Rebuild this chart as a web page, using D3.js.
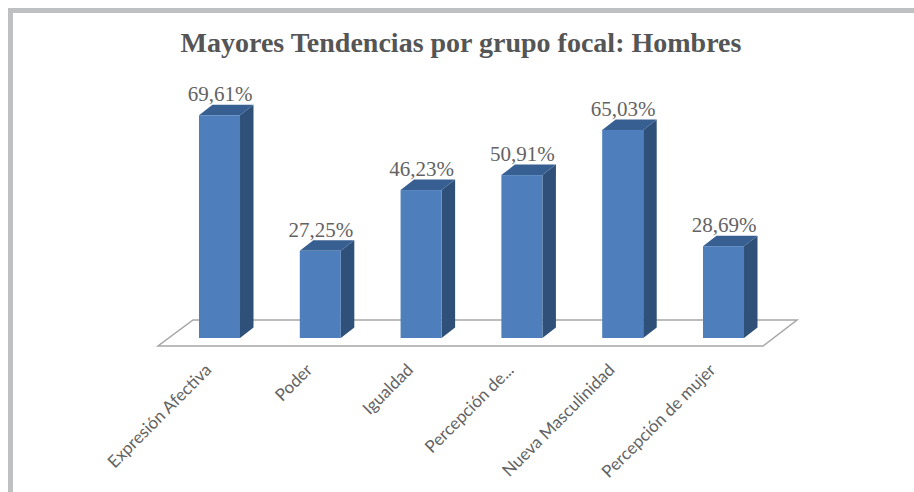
<!DOCTYPE html>
<html>
<head>
<meta charset="utf-8">
<script src="https://cdn.jsdelivr.net/npm/d3@7"></script>
<style>html,body{margin:0;padding:0;background:#fff}svg{display:block}</style>
</head>
<body>
<svg id="chart" width="914" height="492"></svg>
<script>
const titleText = "Mayores Tendencias por grupo focal: Hombres";
const categories = ["Expresión Afectiva","Poder","Igualdad","Percepción de...","Nueva Masculinidad","Percepción de mujer"];
const values = [69.61,27.25,46.23,50.91,65.03,28.69];

const svg = d3.select("#chart");
const x = d3.scaleBand().domain(categories).range([169.1,773.9]).paddingInner(0.593).paddingOuter(0.2965);
const y = d3.scaleLinear().domain([0,80]).range([338,82]);
const dx = 13.5, dy = 10.5;
const fmt = v => d3.format(".2f")(v).replace(".",",") + "%";

// frame
svg.append("rect").attr("x",8).attr("y",8).attr("width",906).attr("height",5).attr("fill","#bfc0c1");
svg.append("rect").attr("x",8).attr("y",8).attr("width",5).attr("height",484).attr("fill","#bfc0c1");

// title
svg.append("text").attr("x",461).attr("y",52).attr("text-anchor","middle")
  .attr("font-family","'Liberation Serif'").attr("font-weight","bold").attr("font-size",28)
  .attr("fill","#555555").text(titleText);

// floor
const floor = d3.line();
svg.append("path").attr("d",floor([[158,346],[763,346],[797,320],[193,320]])+"Z")
  .attr("fill","#fff").attr("stroke","#a6a6a6").attr("stroke-width",1.5);

// bars
const g = svg.selectAll("g.bar").data(categories.map((c,i)=>({c,v:values[i]}))).join("g").attr("class","bar");
g.append("path").attr("fill","#2f5078").attr("d",d=>{
  const r=x(d.c)+x.bandwidth(), t=y(d.v), b=y(0);
  return floor([[r,t],[r+dx,t-dy],[r+dx,b-dy],[r,b]])+"Z";
});
g.append("path").attr("fill","#385f91").attr("d",d=>{
  const l=x(d.c), r=l+x.bandwidth(), t=y(d.v);
  return floor([[l,t],[l+dx,t-dy],[r+dx,t-dy],[r,t]])+"Z";
});
g.append("rect").attr("x",d=>x(d.c)).attr("y",d=>y(d.v)).attr("width",x.bandwidth())
  .attr("height",d=>y(0)-y(d.v)).attr("fill","#4e7fbc");
g.append("text").attr("x",d=>x(d.c)+x.bandwidth()/2+0.5).attr("y",d=>y(d.v)-14)
  .attr("text-anchor","middle").attr("font-family","'Liberation Serif'").attr("font-size",21)
  .attr("fill","#636363").text(d=>fmt(d.v));

// category labels
svg.selectAll("text.cat").data(categories).join("text").attr("class","cat")
  .attr("transform",d=>`translate(${x(d)+x.bandwidth()/2-10},${368}) rotate(-45)`)
  .attr("text-anchor","end").attr("dominant-baseline","middle")
  .attr("font-family","Lato").attr("font-size",17).attr("fill","#636363").text(d=>d);
</script>
</body>
</html>
